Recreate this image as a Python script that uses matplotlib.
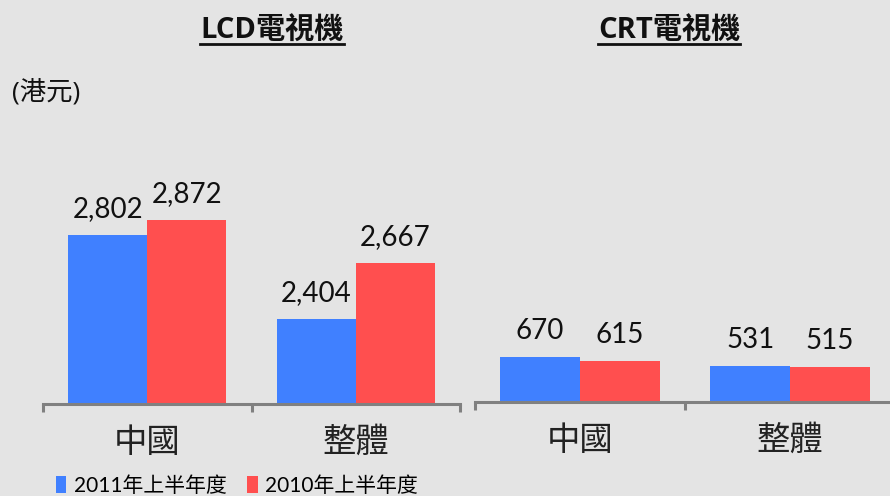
import matplotlib
matplotlib.use('Agg')
import matplotlib.pyplot as plt
from matplotlib.patches import Patch
from matplotlib.lines import Line2D

categories = ['中國', '整體']
series_names = ['2011年上半年度', '2010年上半年度']
lcd_2011 = [2802, 2404]
lcd_2010 = [2872, 2667]
crt_2011 = [670, 531]
crt_2010 = [615, 515]

blue = '#4080ff'
red = '#ff4f4f'
bg = '#e4e4e4'
axis_gray = '#808080'

num_font = ['Lato', 'Noto Sans CJK TC']
cjk_font = ['Noto Sans CJK TC', 'DejaVu Sans']
plt.rcParams['font.family'] = num_font

W, H = 890, 496
fig = plt.figure(figsize=(W / 100, H / 100), dpi=100, facecolor=bg)


def px_axes(x0, x1, ytop, ybot):
    return fig.add_axes([x0 / W, 1 - ybot / H, (x1 - x0) / W, (ybot - ytop) / H])


def draw_panel(ax, s1, s2, ylim):
    ax.set_facecolor('none')
    xs = list(range(len(categories)))
    bw = 0.38
    ax.bar([x - bw / 2 for x in xs], s1, bw, color=blue, zorder=2)
    ax.bar([x + bw / 2 for x in xs], s2, bw, color=red, zorder=2)
    ax.set_ylim(*ylim)
    ax.set_xlim(-0.5, len(categories) - 0.5)
    for x, v in zip(xs, s1):
        ax.annotate(f'{v:,}', (x - bw / 2, v), xytext=(0, 13), textcoords='offset points',
                    ha='center', va='baseline', fontsize=20, color='#111111')
    for x, v in zip(xs, s2):
        ax.annotate(f'{v:,}', (x + bw / 2, v), xytext=(0, 13), textcoords='offset points',
                    ha='center', va='baseline', fontsize=20, color='#111111')
    for s in ['top', 'left', 'right']:
        ax.spines[s].set_visible(False)
    ax.spines['bottom'].set_color(axis_gray)
    ax.spines['bottom'].set_linewidth(2.2)
    ax.set_yticks([])
    ax.set_xticks([x - 0.5 for x in range(len(categories) + 1)])
    ax.set_xticklabels([])
    ax.tick_params(axis='x', which='major', length=6, width=2.2, color=axis_gray, direction='out')
    ax.set_xticks(xs, minor=True)
    ax.set_xticklabels(categories, minor=True, fontsize=24, family=cjk_font, color='#222222')
    ax.tick_params(axis='x', which='minor', length=0, pad=15)


ax1 = px_axes(43, 460, 100, 404)
draw_panel(ax1, lcd_2011, lcd_2010, (2000, 2000 + 304 / 0.211))

ax2 = px_axes(475, 895, 100, 402)
draw_panel(ax2, crt_2011, crt_2010, (0, 302 / 0.067))

titles = [('LCD電視機', 272), ('CRT電視機', 669)]
title_objs = []
for t, xc in titles:
    title_objs.append(fig.text(xc / W, 1 - 31 / H, t, ha='center', va='center', fontsize=21,
                               fontweight='bold', family=['Open Sans', 'Noto Sans CJK TC'],
                               color='#111111'))

fig.text(12 / W, 1 - 92 / H, '(港元)', ha='left', va='center', fontsize=19,
         family=['Open Sans', 'Noto Sans CJK TC'], color='#111111')

handles = [Patch(facecolor=blue), Patch(facecolor=red)]
fig.legend(handles, series_names, loc='center left', bbox_to_anchor=(56 / W, 1 - 486 / H),
           ncol=2, frameon=False, fontsize=15, handlelength=0.5, handleheight=0.85,
           handletextpad=0.35, columnspacing=1.0, borderpad=0, borderaxespad=0)

# underline the titles
fig.canvas.draw()
r = fig.canvas.get_renderer()
for t in title_objs:
    bb = t.get_window_extent(r)
    y = 1 - 44 / H
    fig.add_artist(Line2D([bb.x0 / W, bb.x1 / W], [y, y], transform=fig.transFigure,
                          color='#111111', linewidth=2))

fig.savefig('out.png', dpi=100, facecolor=bg)
